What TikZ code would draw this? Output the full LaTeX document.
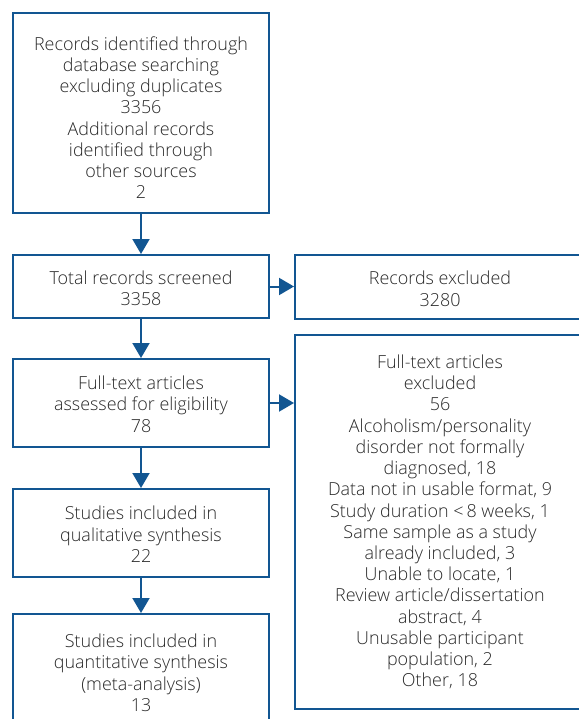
\documentclass[tikz,border=0pt]{standalone}
\usepackage{fontspec}
\setmainfont{Open Sans Light}
\usetikzlibrary{arrows.meta}
\definecolor{pblue}{RGB}{18,86,146}
\definecolor{ptext}{RGB}{40,40,40}
\newcommand{\firstpush}[1]{\rule{0pt}{#1}}
\tikzset{
  box/.style={draw=pblue, line width=2bp, rectangle, align=center, inner sep=0pt,
    text=ptext, font=\fontsize{18}{21.3}\selectfont},
  arr/.style={draw=pblue, line width=2bp, -{Triangle[length=15bp,width=17bp]}, shorten >=0pt}
}
\begin{document}
\begin{tikzpicture}[x=1bp,y=-1bp]
\useasboundingbox (0,0) rectangle (579,719);
\clip (0,0) rectangle (579,719);
\node[box, minimum width=256bp, minimum height=200bp] (b1) at (141,113)
  {\firstpush{23bp}Records identified through\\database searching\\excluding duplicates\\3356\\Additional records\\identified through\\other sources\\2};
\node[box, minimum width=256bp, minimum height=63bp] (b2) at (141,286.5)
  {\firstpush{17bp}Total records screened\\3358};
\node[box, minimum width=256bp, minimum height=88bp] (b3) at (141,403)
  {\firstpush{16bp}Full-text articles\\assessed for eligibility\\78};
\node[box, minimum width=256bp, minimum height=88bp] (b4) at (141,533)
  {\firstpush{16bp}Studies included in\\qualitative synthesis\\22};
\node[box, minimum width=256bp, minimum height=115bp] (b5) at (141,671.5)
  {\firstpush{16bp}Studies included in\\quantitative synthesis\\(meta-analysis)\\13};
\node[box, minimum width=290bp, minimum height=64bp] (rex) at (440,287)
  {\firstpush{17bp}Records excluded\\3280};
\node[box, minimum width=290bp, minimum height=374bp] (big) at (440,522)
  {Full-text articles\\excluded\\56\\Alcoholism/personality\\disorder not formally\\diagnosed, 18\\Data not in usable format, 9\\Study duration <\,8 weeks, 1\\Same sample as a study\\already included, 3\\Unable to locate, 1\\Review article/dissertation\\abstract, 4\\Unusable participant\\population, 2\\Other, 18};
\draw[arr] (b1) -- (b2);
\draw[arr] (b2) -- (b3);
\draw[arr] (b3) -- (b4);
\draw[arr] (b4) -- (b5);
\draw[arr] (b2.east) -- (b2.east -| rex.west);
\draw[arr] (b3.east) -- (b3.east -| big.west);
\end{tikzpicture}
\end{document}
